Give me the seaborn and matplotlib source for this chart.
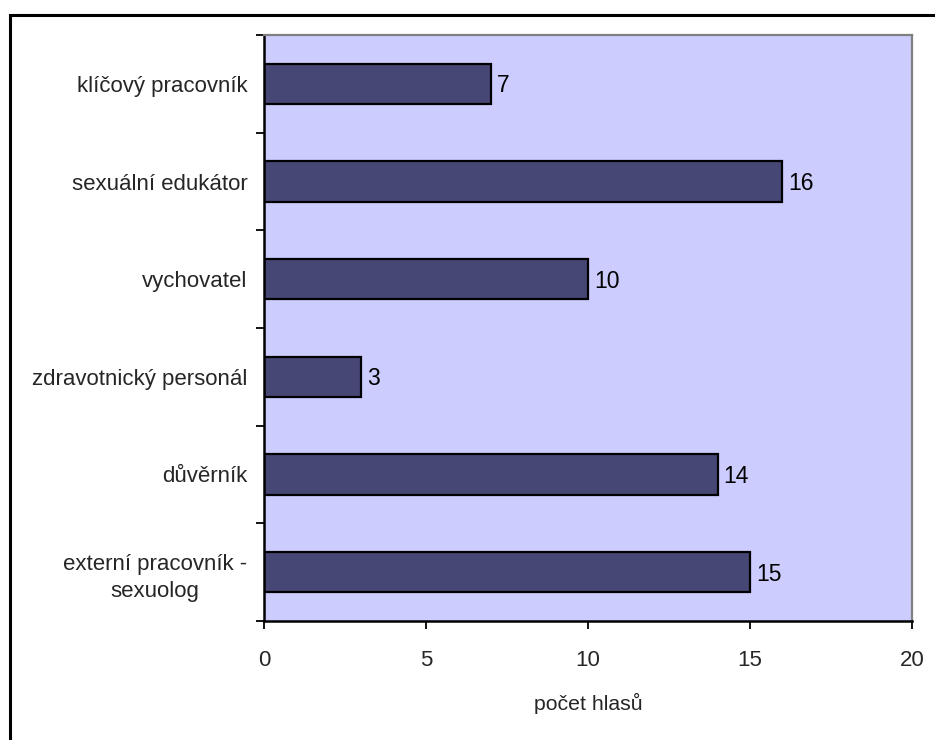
import matplotlib
matplotlib.use("Agg")
import matplotlib.pyplot as plt
from matplotlib.patches import Rectangle
from matplotlib.ticker import FixedLocator
import seaborn as sns
import pandas as pd

categories = [
    "klíčový pracovník",
    "sexuální edukátor",
    "vychovatel",
    "zdravotnický personál",
    "důvěrník",
    "externí pracovník -\nsexuolog",
]
votes = [7, 16, 10, 3, 14, 15]
x_ticks = [0, 5, 10, 15, 20]
x_label = "počet hlasů"

df = pd.DataFrame({"kategorie": categories, "hlasy": votes})

sns.set_style("white")
plt.rcParams["font.family"] = ["Liberation Sans", "DejaVu Sans"]

fig = plt.figure(figsize=(9.35, 7.4), dpi=100)
fig.patch.set_facecolor("white")

# frame around the whole chart (top and left edges visible)
fig.add_artist(Rectangle((9.5 / 935, -0.01), 1.0, 1 - 14.5 / 740 + 0.01,
                         transform=fig.transFigure, fill=False,
                         edgecolor="black", linewidth=2.2, zorder=-1))

ax = fig.add_axes([264 / 935, 1 - 621 / 740, (912 - 264) / 935, (621 - 35) / 740])
ax.set_facecolor("#CCCCFF")

sns.barplot(data=df, y="kategorie", x="hlasy", orient="h", ax=ax,
            color="#474775", saturation=1, width=0.41,
            edgecolor="black", linewidth=1.6)

for patch, v in zip(ax.patches, votes):
    ax.text(v + 0.18, patch.get_y() + patch.get_height() / 2 + 0.02, str(v),
            va="center", ha="left", fontsize=16.5, color="black")

ax.set_xlim(0, 20)
ax.set_ylim(5.5, -0.5)
ax.set_xticks(x_ticks)
ax.set_xticklabels([str(t) for t in x_ticks], fontsize=16)
ax.set_xlabel(x_label, fontsize=15.3, labelpad=16)
ax.set_ylabel("")
ax.set_yticks(range(len(categories)))
ax.set_yticklabels(categories, fontsize=16, multialignment="center", linespacing=1.4)
ax.yaxis.set_minor_locator(FixedLocator([i - 0.5 for i in range(len(categories) + 1)]))

ax.tick_params(axis="y", which="major", length=0, pad=12)
ax.tick_params(axis="y", which="minor", length=6, width=1.3, color="black", direction="out", left=True)
ax.tick_params(axis="x", which="major", length=6, width=1.3, color="black", direction="out", bottom=True, pad=15)

for side in ["left", "bottom"]:
    ax.spines[side].set_color("black")
    ax.spines[side].set_linewidth(1.8)
for side in ["right", "top"]:
    ax.spines[side].set_color("#808080")
    ax.spines[side].set_linewidth(1.6)
    ax.spines[side].set_visible(True)

fig.savefig("out.png", dpi=100, facecolor="white")
